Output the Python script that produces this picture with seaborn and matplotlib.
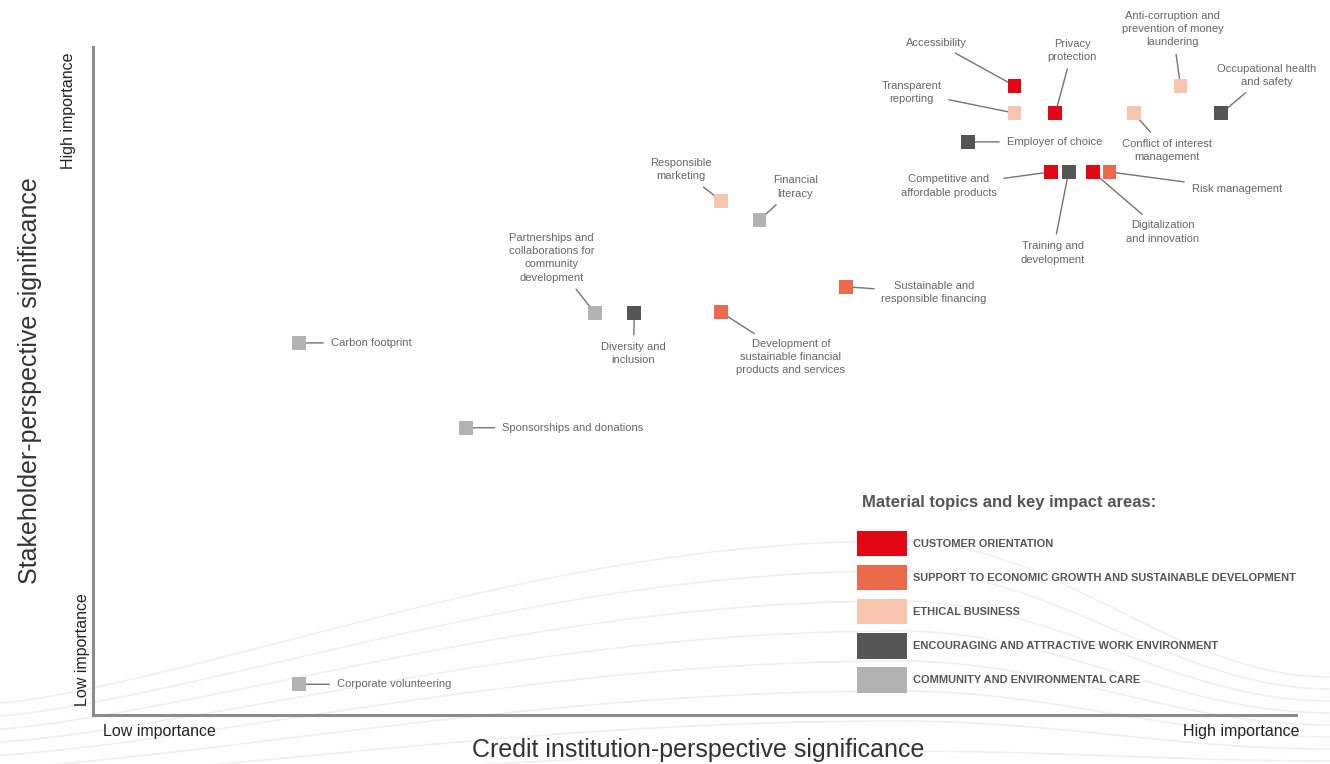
import matplotlib.pyplot as plt
import numpy as np
import pandas as pd
import seaborn as sns
from matplotlib.patches import Patch

# material topics (0-100 scale on both axes)
topics = [
    "Accessibility",
    "Transparent\nreporting",
    "Privacy\nprotection",
    "Anti-corruption and\nprevention of money\nlaundering",
    "Conflict of interest\nmanagement",
    "Occupational health\nand safety",
    "Employer of choice",
    "Competitive and\naffordable products",
    "Training and\ndevelopment",
    "Digitalization\nand innovation",
    "Risk management",
    "Responsible\nmarketing",
    "Financial\nliteracy",
    "Sustainable and\nresponsible financing",
    "Partnerships and\ncollaborations for\ncommunity\ndevelopment",
    "Diversity and\ninclusion",
    "Development of\nsustainable financial\nproducts and services",
    "Carbon footprint",
    "Sponsorships and donations",
    "Corporate volunteering",
]
credit_significance = [76.6, 76.6, 80.0, 90.4, 86.5, 93.8, 72.7, 79.6, 81.1, 83.1,
                       84.5, 52.2, 55.4, 62.6, 41.7, 45.0, 52.2, 17.1, 31.0, 17.1]
stakeholder_significance = [94.2, 90.1, 90.1, 94.2, 90.1, 90.1, 85.8, 81.3, 81.3, 81.3,
                            81.3, 77.0, 74.1, 64.1, 60.2, 60.2, 60.3, 55.7, 43.0, 4.6]
impact_area = [0, 2, 0, 2, 2, 3, 3, 0, 3, 0,
               1, 2, 4, 1, 4, 3, 1, 4, 4, 4]

areas = [
    "CUSTOMER ORIENTATION",
    "SUPPORT TO ECONOMIC GROWTH AND SUSTAINABLE DEVELOPMENT",
    "ETHICAL BUSINESS",
    "ENCOURAGING AND ATTRACTIVE WORK ENVIRONMENT",
    "COMMUNITY AND ENVIRONMENTAL CARE",
]
area_colors = ["#E30613", "#EC6A4C", "#F8C5AF", "#555555", "#B2B2B2"]

# where each label sits relative to its square (pixels, y up) and its alignment
label_dx = [-78, -103, 17, -8, 33, 45, 39, -102, -16, 70,
            82, -40, 36, 88, -43, -1, 70, 32, 36, 38]
label_dy = [43, 21, 63, 57, -37, 38, 0, -14, -81, -60,
            -17, 31, 33, -6, 55, -41, -45, 0, 0, 0]
label_ha = ["center"] * 6 + ["left"] + ["center"] * 3 + ["left"] + ["center"] * 6 + ["left"] * 3

sns.set_style("white")
plt.rcParams["font.family"] = ["Liberation Sans", "DejaVu Sans"]

df = pd.DataFrame({
    "topic": topics,
    "credit": credit_significance,
    "stakeholder": stakeholder_significance,
    "area": [areas[i] for i in impact_area],
})

fig = plt.figure(figsize=(13.3, 7.64), dpi=100)

# faint decorative swoosh behind the chart (figure pixels, y down)
bg = fig.add_axes([0, 0, 1, 1], zorder=-1)
bg.set_axis_off()
bg.set_xlim(0, 1330)
bg.set_ylim(764, 0)
xs = np.linspace(0, 1330, 400)
for k in range(9):
    left, peak, right = 703 + 13 * k, 541 + 30 * k, 677 + 12 * k
    rise = left + (peak - left) * np.sin(np.pi / 2 * np.clip(xs, 0, 900) / 900) ** 1.3
    fall = peak + (right - peak) * (1 - np.cos(np.pi * np.clip(xs - 900, 0, 430) / 430)) / 2
    bg.plot(xs, np.where(xs < 900, rise, fall), color="#f0f0f0", lw=1.2)

ax = fig.add_axes([93 / 1330, 49 / 764, 1203 / 1330, 668 / 764])
ax.patch.set_alpha(0)

sns.scatterplot(
    data=df, x="credit", y="stakeholder", hue="area", hue_order=areas,
    palette=area_colors, marker="s", s=100, linewidth=0, legend=False,
    ax=ax, zorder=4,
)

for name, x, y, dx, dy, ha in zip(topics, credit_significance, stakeholder_significance,
                                  label_dx, label_dy, label_ha):
    ax.annotate(
        name, xy=(x, y), xytext=(dx * 0.72, dy * 0.72), textcoords="offset points",
        ha=ha, va="center", multialignment="center", fontsize=8, color="#666666",
        linespacing=1.4,
        arrowprops=dict(arrowstyle="-", color="#747474", lw=1, shrinkA=3, shrinkB=0),
        zorder=3,
    )

ax.set_xlim(0, 100)
ax.set_ylim(0, 100)
ax.set_xticks([])
ax.set_yticks([])
for side in ["top", "right"]:
    ax.spines[side].set_visible(False)
for side in ["left", "bottom"]:
    ax.spines[side].set_color("#8c8c8c")
    ax.spines[side].set_linewidth(2.2)

ax.set_xlabel("Credit institution-perspective significance", fontsize=18, color="#333333")
ax.xaxis.set_label_coords(0.503, -0.0524)
ax.xaxis.label.set_va("center")
ax.set_ylabel("Stakeholder-perspective significance", fontsize=18, color="#333333")
ax.yaxis.set_label_coords(-0.0524, 0.5)
ax.yaxis.label.set_va("center")

ax.text(0.0083, -0.024, "Low importance", transform=ax.transAxes, ha="left", va="center",
        fontsize=11.5, color="#222222")
ax.text(1.0025, -0.024, "High importance", transform=ax.transAxes, ha="right", va="center",
        fontsize=11.5, color="#222222")
ax.text(-0.02, 0.9925, "High importance", transform=ax.transAxes, ha="center", va="top",
        rotation=90, fontsize=11.5, color="#222222")
ax.text(-0.009, 0.0135, "Low importance", transform=ax.transAxes, ha="center", va="bottom",
        rotation=90, fontsize=11.5, color="#222222")

ax.text((862 - 93) / 1203, (715 - 502) / 668, "Material topics and key impact areas:",
        transform=ax.transAxes, ha="left", va="center", fontsize=12, weight="bold",
        color="#555555")
handles = [Patch(facecolor=c, edgecolor="none", label=a) for a, c in zip(areas, area_colors)]
leg = ax.legend(
    handles=handles, loc="upper left",
    bbox_to_anchor=((857 - 93) / 1203, (715 - 531) / 668),
    frameon=False, borderpad=0, borderaxespad=0, handlelength=4.55, handleheight=3.17,
    handletextpad=0.55, labelspacing=0.8, prop=dict(weight="bold", size=7.9),
)
for t in leg.get_texts():
    t.set_color("#555555")

fig.savefig("out.png", dpi=100)
